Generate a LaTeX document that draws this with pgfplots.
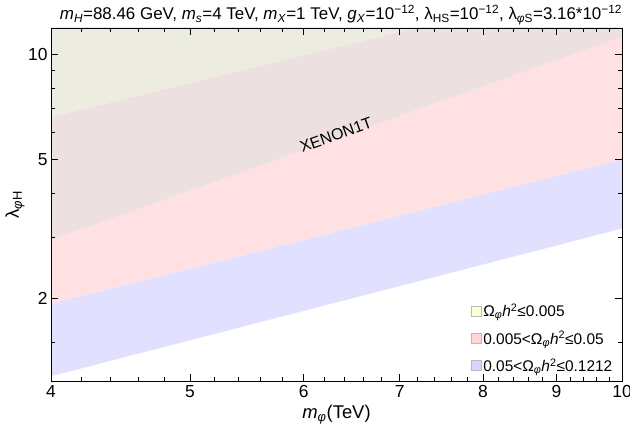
\documentclass[border=0pt]{standalone}
\usepackage{fontspec}
\setmainfont{Liberation Sans}
\usepackage{pgfplots}
\pgfplotsset{compat=1.18}
\definecolor{ygray}{RGB}{236,236,224}
\definecolor{pgray}{RGB}{236,224,224}
\definecolor{pinkb}{RGB}{255,225,228}
\definecolor{blueb}{RGB}{225,225,255}
\definecolor{legy}{RGB}{255,255,214}
\definecolor{legp}{RGB}{255,214,216}
\definecolor{legb}{RGB}{214,214,255}
\newcommand{\ph}{\textit{φ}}
\begin{document}
\begin{tikzpicture}
\useasboundingbox (-51bp,-51bp) rectangle (579bp,381bp);
\begin{loglogaxis}[
  scale only axis, width=571bp, height=353bp,
  xmin=4, xmax=10, ymin=1.16, ymax=11.9,
  xtick={4,5,6,7,8,9,10}, xticklabels={4,5,6,7,8,9,10},
  minor xtick={4.2,4.4,4.6,4.8,5.2,5.4,5.6,5.8,6.2,6.4,6.6,6.8,7.2,7.4,7.6,7.8,8.2,8.4,8.6,8.8,9.2,9.4,9.6,9.8},
  ytick={2,5,10}, yticklabels={2,5,10},
  minor ytick={1.5,3,4,6,7,8,9},
  tick align=inside, major tick length=7bp, minor tick length=4bp,
  tick style={black, line width=0.5pt},
  ticklabel style={font=\fontsize{17.5}{17.5}\selectfont},
  xticklabel style={yshift=-1bp},
  axis line style={line width=0.6pt},
  axis on top,
  xlabel={\textit{m}\textsubscript{\ph}(TeV)},
  xlabel style={at={(axis description cs:0.5,-0.096)}, anchor=center, font=\fontsize{18.5}{18.5}\selectfont},
  ylabel={λ\textsubscript{\ph H}},
  ylabel style={at={(axis description cs:-0.063,0.5)}, anchor=center, rotate=0, font=\fontsize{18.5}{18.5}\selectfont},
  legend image code/.code={\draw[#1, draw=gray!55, line width=0.4pt] (0bp,-5bp) rectangle (10bp,5bp);},
  legend style={draw=none, fill=none, at={(axis description cs:0.735,0.017)}, anchor=south west,
    font=\fontsize{15.5}{17}\selectfont, row sep=9bp, inner sep=0pt, nodes={inner sep=2bp}},
  legend cell align=left,
]
\addplot[fill=blueb, draw=none, forget plot] coordinates {(4,1.197) (10,3.17) (10,5.00) (4,1.934)} -- cycle;
\addplot[fill=pinkb, draw=none, forget plot] coordinates {(4,1.934) (10,5.00) (10,11.23) (4,2.94)} -- cycle;
\addplot[fill=pgray, draw=none, forget plot] coordinates {(4,2.94) (10,11.23) (10,16.6) (4,6.62)} -- cycle;
\addplot[fill=ygray, draw=none, forget plot] coordinates {(4,6.62) (10,16.6) (10,30) (4,30)} -- cycle;
\node[rotate=19.6, font=\fontsize{16}{16}\selectfont] at (axis cs:6.32,5.88) {XENON1T};
\addlegendimage{fill=legy}
\addlegendentry{Ω\textsubscript{\ph}\textit{h}\textsuperscript{2}≤0.005}
\addlegendimage{fill=legp}
\addlegendentry{0.005<Ω\textsubscript{\ph}\textit{h}\textsuperscript{2}≤0.05}
\addlegendimage{fill=legb}
\addlegendentry{0.05<Ω\textsubscript{\ph}\textit{h}\textsuperscript{2}≤0.1212}
\end{loglogaxis}
\node[anchor=center, font=\fontsize{17}{17}\selectfont] at (290bp,366bp) {\textit{m}\textsubscript{\textit{H}}=88.46 GeV, \textit{m}\textsubscript{\textit{s}}=4 TeV, \textit{m}\textsubscript{\textit{X}}=1 TeV, \textit{g}\textsubscript{\textit{X}}=10\textsuperscript{−12}, λ\textsubscript{HS}=10\textsuperscript{−12}, λ\textsubscript{\ph S}=3.16*10\textsuperscript{−12}};
\end{tikzpicture}
\end{document}
